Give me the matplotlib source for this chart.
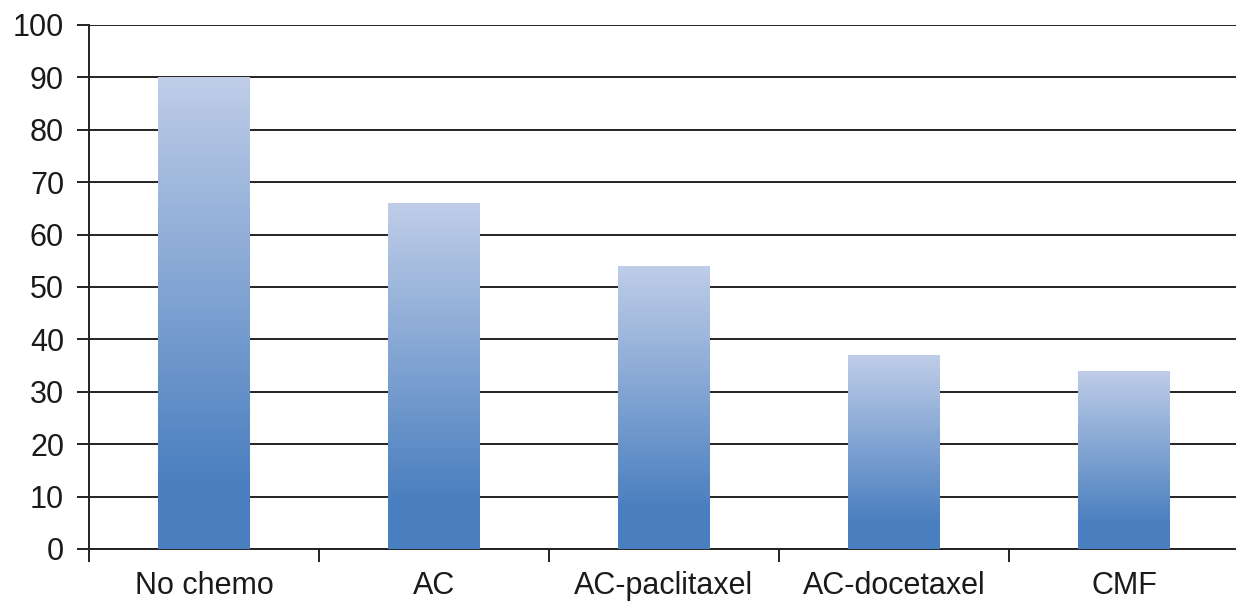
import numpy as np
import matplotlib
matplotlib.use("Agg")
import matplotlib.pyplot as plt
from matplotlib.colors import LinearSegmentedColormap

categories = ["No chemo", "AC", "AC-paclitaxel", "AC-docetaxel", "CMF"]
values = [90, 66, 54, 37, 34]
y_ticks = list(range(0, 101, 10))

plt.rcParams["font.family"] = ["Liberation Sans", "DejaVu Sans"]

fig = plt.figure(figsize=(12.36, 6.04), dpi=100)
ax = fig.add_axes([89 / 1236, 55 / 604, 1150 / 1236, 524 / 604])

# vertical fill: dark blue at the base, pale blue at the top
cmap = LinearSegmentedColormap.from_list(
    "barfill", [(0.0, "#4a7fbf"), (0.14, "#4a7fbf"), (1.0, "#bfcde8")])
grad = np.linspace(0, 1, 256).reshape(-1, 1)

x = np.arange(len(categories))
width = 0.4
bars = ax.bar(x, values, width=width, facecolor="none", edgecolor="none", zorder=3)
for rect in bars:
    x0, y0 = rect.get_x(), rect.get_y()
    w, h = rect.get_width(), rect.get_height()
    im = ax.imshow(grad, cmap=cmap, origin="lower", aspect="auto",
                   extent=(x0, x0 + w, y0, y0 + h), zorder=3,
                   interpolation="bilinear")
    im.set_clip_path(rect)

ax.set_xlim(-0.5, len(categories) - 0.5)
ax.set_ylim(0, 100)

ax.set_yticks(y_ticks)
ax.set_yticklabels([str(t) for t in y_ticks])
ax.yaxis.grid(True, color="#222222", linewidth=1.4, zorder=1)
ax.set_axisbelow(True)

ax.set_xticks(x)
ax.set_xticklabels(categories)
ax.set_xticks(np.arange(-0.5, len(categories), 1.0), minor=True)
ax.tick_params(axis="x", which="major", length=0, pad=16, labelsize=22,
               colors="#1a1a1a")
ax.tick_params(axis="x", which="minor", length=9, width=1.4, color="#222222",
               direction="out")
ax.tick_params(axis="y", length=9, width=1.4, color="#222222", pad=9,
               labelsize=22, labelcolor="#1a1a1a")

for side in ("top", "right"):
    ax.spines[side].set_visible(False)
for side in ("left", "bottom"):
    ax.spines[side].set_color("#222222")
    ax.spines[side].set_linewidth(1.4)

fig.savefig("out.png", dpi=100, facecolor="white")
